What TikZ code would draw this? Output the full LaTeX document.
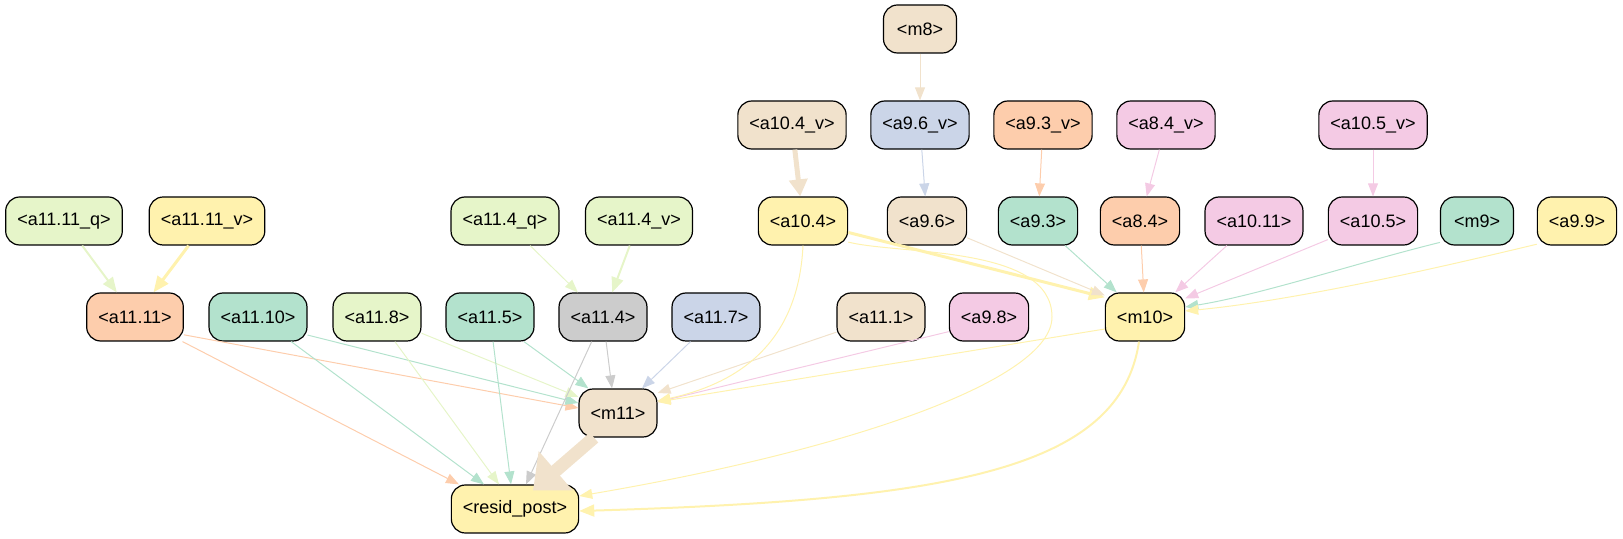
\documentclass[tikz,border=0pt]{standalone}
\usepackage{fontspec}
\setmainfont{Liberation Sans}
\usetikzlibrary{arrows.meta}

\definecolor{cGreen}{HTML}{E6F5C9}
\definecolor{cYellow}{HTML}{FFF2AE}
\definecolor{cPeach}{HTML}{FDCDAC}
\definecolor{cTeal}{HTML}{B3E2CD}
\definecolor{cTan}{HTML}{F1E2CC}
\definecolor{cBlue}{HTML}{CBD5E8}
\definecolor{cPink}{HTML}{F4CAE4}
\definecolor{cGray}{HTML}{CCCCCC}

\begin{document}
\begin{tikzpicture}
    [x=0.5pt, y=-0.5pt,
     box/.style={draw, line width=0.6pt, rounded corners=7pt, minimum height=24pt,
                 minimum width=36.5pt, inner xsep=5.8pt, font=\fontsize{9}{11}\selectfont},
     w1/.style={line width=0.5pt, -{Triangle[length=6.5pt, width=5pt]}},
     w2/.style={line width=1pt, -{Triangle[length=7.5pt, width=6pt]}},
     w3/.style={line width=1.5pt, -{Triangle[length=8pt, width=6.5pt]}},
     w4/.style={line width=2.5pt, -{Triangle[length=8.5pt, width=9pt]}},
     w5/.style={line width=6.5pt, -{Triangle[length=15pt, width=25pt]}}]
    \useasboundingbox (0,0) rectangle (1623,539);

    % top rows
    \node (m8) at (920,29) [box, fill=cTan] {<m8>};
    \node (a10-4v) at (792,125) [box, fill=cTan] {<a10.4\_v>};
    \node (a9-6v) at (920,125) [box, fill=cBlue] {<a9.6\_v>};
    \node (a9-3v) at (1043,125) [box, fill=cPeach] {<a9.3\_v>};
    \node (a8-4v) at (1166,125) [box, fill=cPink] {<a8.4\_v>};
    \node (a10-5v) at (1373,125) [box, fill=cPink] {<a10.5\_v>};

    \node (a11-11q) at (64,221) [box, fill=cGreen] {<a11.11\_q>};
    \node (a11-11v) at (207,221) [box, fill=cYellow] {<a11.11\_v>};
    \node (a11-4q) at (505,221) [box, fill=cGreen] {<a11.4\_q>};
    \node (a11-4v) at (639,221) [box, fill=cGreen] {<a11.4\_v>};
    \node (a10-4) at (803,221) [box, fill=cYellow] {<a10.4>};
    \node (a9-6) at (927,221) [box, fill=cTan] {<a9.6>};
    \node (a9-3) at (1038,221) [box, fill=cTeal] {<a9.3>};
    \node (a8-4) at (1140,221) [box, fill=cPeach] {<a8.4>};
    \node (a10-11) at (1254,221) [box, fill=cPink] {<a10.11>};
    \node (a10-5) at (1373,221) [box, fill=cPink] {<a10.5>};
    \node (m9) at (1477,221) [box, fill=cTeal] {<m9>};
    \node (a9-9) at (1577,221) [box, fill=cYellow] {<a9.9>};

    \node (a11-11) at (135,317) [box, fill=cPeach] {<a11.11>};
    \node (a11-10) at (258,317) [box, fill=cTeal] {<a11.10>};
    \node (a11-8) at (377,317) [box, fill=cGreen] {<a11.8>};
    \node (a11-5) at (490,317) [box, fill=cTeal] {<a11.5>};
    \node (a11-4) at (603,317) [box, fill=cGray] {<a11.4>};
    \node (a11-7) at (716,317) [box, fill=cBlue] {<a11.7>};
    \node (a11-1) at (881,317) [box, fill=cTan] {<a11.1>};
    \node (a9-8) at (989,317) [box, fill=cPink] {<a9.8>};
    \node (m10) at (1145,317) [box, fill=cYellow] {<m10>};

    \node (m11) at (618,413) [box, fill=cTan] {<m11>};
    \node (resid) at (515,509) [box, fill=cYellow] {<resid\_post>};

    % inputs
    \draw[w1, cTan] (m8) -- (a9-6v);
    \draw[w4, cTan] (a10-4v) -- (a10-4);
    \draw[w1, cBlue] (a9-6v) -- (a9-6);
    \draw[w1, cPeach] (a9-3v) -- (a9-3);
    \draw[w1, cPink] (a8-4v) -- (a8-4);
    \draw[w1, cPink] (a10-5v) -- (a10-5);
    \draw[w2, cGreen] (a11-11q) -- (a11-11);
    \draw[w3, cYellow] (a11-11v) -- (a11-11);
    \draw[w1, cGreen] (a11-4q) -- (a11-4);
    \draw[w2, cGreen] (a11-4v) -- (a11-4);

    % into m10
    \draw[w3, cYellow] (a10-4) -- ([yshift=-2.5pt]m10.north west);
    \draw[w1, cTan] (a9-6) -- ([yshift=-1.5pt]m10.north west);
    \draw[w1, cTeal] (a9-3) -- ([xshift=6pt]m10.north west);
    \draw[w1, cPeach] (a8-4) -- (m10);
    \draw[w1, cPink] (a10-11) -- ([xshift=-5pt]m10.north east);
    \draw[w1, cPink] (a10-5) -- ([yshift=-3pt]m10.north east);
    \draw[w1, cTeal] (m9.-150) .. controls (1360,262) and (1260,295) .. ([yshift=5pt]m10.east);
    \draw[w1, cYellow] (a9-9.-150) .. controls (1450,265) and (1300,300) .. ([yshift=3pt]m10.east);

    % into m11
    \draw[w1, cPeach] (a11-11.-20) -- ([yshift=2.5pt]m11.west);
    \draw[w1, cTeal] (a11-10.-20) -- ([yshift=5pt]m11.west);
    \draw[w1, cGreen] (a11-8.-20) -- ([yshift=8pt]m11.west);
    \draw[w1, cTeal] (a11-5) -- ([xshift=5pt]m11.north west);
    \draw[w1, cGray] (a11-4) -- ([xshift=-3pt]m11.north);
    \draw[w1, cBlue] (a11-7) -- ([xshift=12pt]m11.north);
    \draw[w1, cTan] (a11-1) -- ([yshift=10pt]m11.east);
    \draw[w1, cPink] (a9-8.-160) -- ([yshift=5.5pt]m11.east);
    \draw[w1, cYellow] ([yshift=-6pt]m10.west) -- ([yshift=5.5pt]m11.east);
    \draw[w1, cYellow] (a10-4.south) .. controls (798,350) and (730,385) .. ([yshift=6pt]m11.east);

    % into resid_post
    \draw[w1, cPeach] (a11-11) -- ([xshift=-28pt]resid.north);
    \draw[w1, cTeal] (a11-10) -- ([xshift=-15.5pt]resid.north);
    \draw[w1, cGreen] (a11-8) -- ([xshift=-8pt]resid.north);
    \draw[w1, cTeal] (a11-5) -- ([xshift=-2pt]resid.north);
    \draw[w1, cGray] (a11-4) -- ([xshift=5.5pt]resid.north);
    \draw[w5, cTan] ([xshift=-12pt]m11.south) -- ([xshift=9pt, yshift=-3pt]resid.north);
    \draw[w1, cYellow] (a10-4.-25) .. controls (900,255) and (1052,245) .. (1052,317)
        .. controls (1052,380) and (850,450) .. ([yshift=6.5pt]resid.east);
    \draw[w2, cYellow] ([xshift=-3pt]m10.south) .. controls (1120,470) and (950,500) .. ([yshift=-1pt]resid.east);
\end{tikzpicture}
\end{document}
